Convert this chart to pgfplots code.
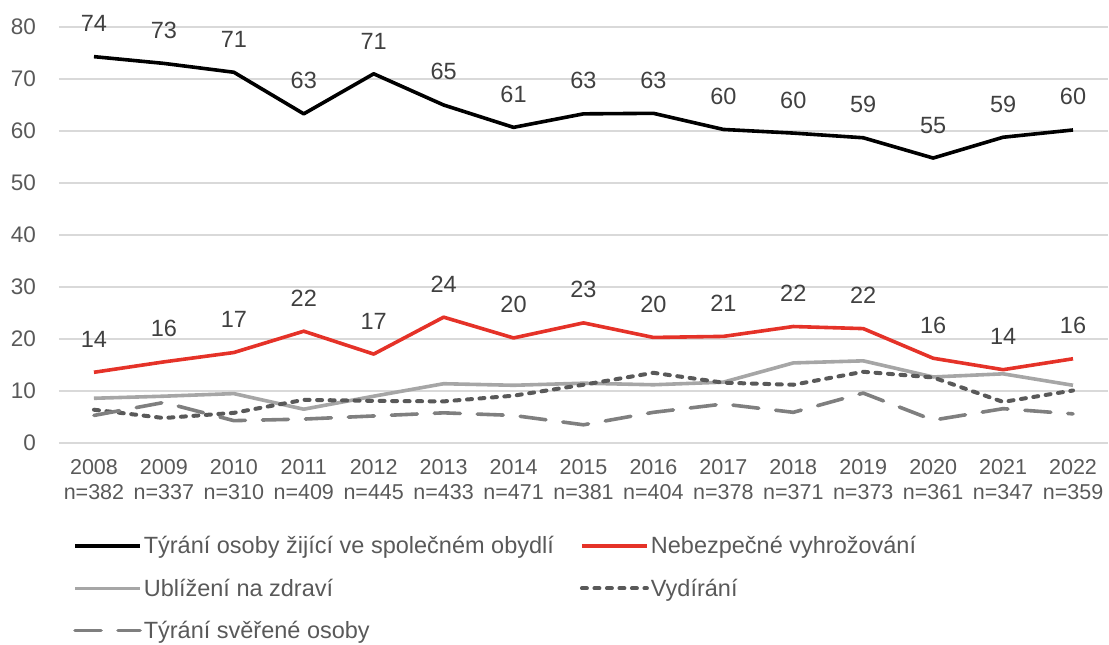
\documentclass[border=0pt]{standalone}
\usepackage{fontspec}
\setmainfont{Liberation Sans}
\usepackage{pgfplots}
\pgfplotsset{compat=1.18}
\usepackage{pgfplotstable}
\definecolor{cred}{RGB}{229,50,40}
\definecolor{lgray}{RGB}{166,166,166}
\definecolor{dgray}{RGB}{89,89,89}
\definecolor{mgray}{RGB}{127,127,127}
\definecolor{gridgray}{RGB}{217,217,217}
\definecolor{labgray}{RGB}{89,89,89}
\definecolor{datgray}{RGB}{64,64,64}

\pgfplotstableread{
x y lab
0 74.3 74
1 73.0 73
2 71.3 71
3 63.3 63
4 71.0 71
5 65.0 65
6 60.7 61
7 63.3 63
8 63.4 63
9 60.3 60
10 59.6 60
11 58.7 59
12 54.8 55
13 58.8 59
14 60.2 60
}\tyrani

\pgfplotstableread{
x y lab
0 13.6 14
1 15.6 16
2 17.4 17
3 21.5 22
4 17.1 17
5 24.2 24
6 20.2 20
7 23.1 23
8 20.3 20
9 20.5 21
10 22.4 22
11 22.0 22
12 16.3 16
13 14.1 14
14 16.2 16
}\vyhr

\pgfplotstableread{
x y
0 8.6
1 9.0
2 9.5
3 6.5
4 9.0
5 11.4
6 11.1
7 11.5
8 11.2
9 11.7
10 15.4
11 15.8
12 12.7
13 13.3
14 11.1
}\ublizeni

\pgfplotstableread{
x y
0 6.4
1 4.8
2 5.8
3 8.3
4 8.1
5 8.0
6 9.1
7 11.2
8 13.5
9 11.6
10 11.2
11 13.7
12 12.6
13 7.9
14 10.1
}\vydirani

\pgfplotstableread{
x y
0 5.3
1 7.8
2 4.3
3 4.6
4 5.2
5 5.8
6 5.3
7 3.5
8 5.9
9 7.5
10 5.9
11 9.6
12 4.4
13 6.6
14 5.6
}\sverene

\begin{document}
\begin{tikzpicture}
\path[use as bounding box] (-59pt,-202pt) rectangle (1050pt,443pt);
\begin{axis}[
  at={(0pt,0pt)}, anchor=south west,
  scale only axis, width=1049pt, height=416pt,
  xmin=-0.5, xmax=14.5, ymin=0, ymax=80,
  ytick={0,10,...,80}, xtick={0,...,14},
  xticklabels={{2008\\n=382},{2009\\n=337},{2010\\n=310},{2011\\n=409},{2012\\n=445},{2013\\n=433},{2014\\n=471},{2015\\n=381},{2016\\n=404},{2017\\n=378},{2018\\n=371},{2019\\n=373},{2020\\n=361},{2021\\n=347},{2022\\n=359}},
  xticklabel style={align=center, font=\fontsize{21.5}{25.5}\selectfont, text=labgray, inner sep=0pt, yshift=-16pt},
  yticklabel style={font=\fontsize{22.5}{26}\selectfont, text=labgray, inner sep=0pt, xshift=-23pt},
  /pgf/number format/assume math mode=true,
  ymajorgrids, grid style={color=gridgray, line width=1.6pt},
  axis line style={draw=none}, major tick length=0pt,
  clip=false,
  legend columns=2,
  legend cell align=left,
  legend image code/.code={\draw[#1] (0pt,0pt) -- (65pt,0pt);},
  legend style={at={(0.0105,-0.215)}, anchor=north west, draw=none, fill=none,
    font=\fontsize{23.5}{28}\selectfont, text=labgray, row sep=19.5pt,
    /tikz/every even column/.append style={column sep=24pt}},
  every node near coord/.append style={font=\fontsize{23.5}{27}\selectfont, text=datgray, anchor=south, inner sep=0pt, yshift=23pt},
]
\addplot[black, line width=3.6pt, line join=round, no markers,
  nodes near coords, point meta=explicit symbolic] table[x=x, y=y, meta=lab] {\tyrani};
\addlegendentry{Týrání osoby žijící ve společném obydlí}
\addplot[cred, line width=3.6pt, line join=round, no markers,
  nodes near coords, point meta=explicit symbolic] table[x=x, y=y, meta=lab] {\vyhr};
\addlegendentry{Nebezpečné vyhrožování}
\addplot[lgray, line width=3.6pt, line join=round, no markers] table[x=x, y=y] {\ublizeni};
\addlegendentry{Ublížení na zdraví}
\addplot[dgray, line width=4pt, line cap=round, line join=round, dash pattern=on 5pt off 7.5pt, no markers] table[x=x, y=y] {\vydirani};
\addlegendentry{Vydírání}
\addplot[mgray, line width=3.6pt, line cap=round, line join=round, dash pattern=on 26pt off 17pt, no markers] table[x=x, y=y] {\sverene};
\addlegendentry{Týrání svěřené osoby}
\end{axis}
\end{tikzpicture}
\end{document}
